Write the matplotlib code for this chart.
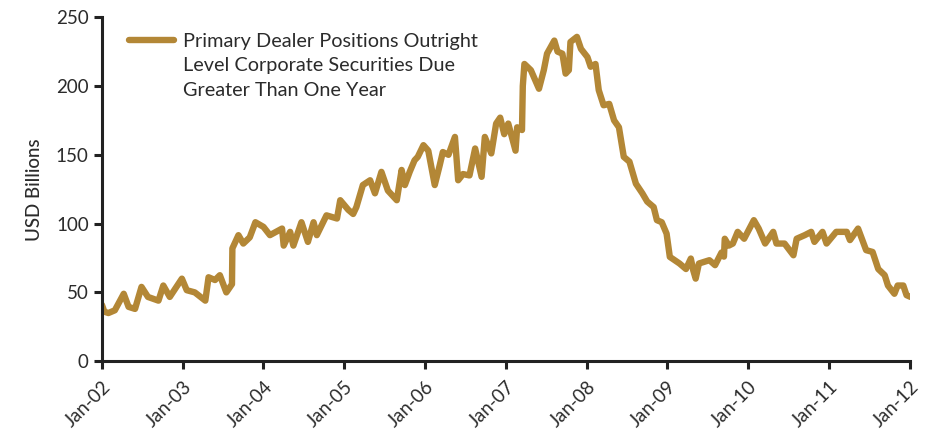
import numpy as np
import matplotlib
matplotlib.use('Agg')
import matplotlib.pyplot as plt
from matplotlib.lines import Line2D

plt.rcParams['font.family'] = ['Lato', 'DejaVu Sans']

# decimal years and level (USD billions)
years = [2002.00, 2002.03, 2002.08, 2002.16, 2002.27, 2002.33, 2002.41, 2002.49, 2002.57,
         2002.70, 2002.76, 2002.84, 2002.99, 2003.05, 2003.15, 2003.28, 2003.32, 2003.40,
         2003.46, 2003.54, 2003.61, 2003.615, 2003.69, 2003.75, 2003.83, 2003.90, 2004.00,
         2004.08, 2004.23, 2004.25, 2004.33, 2004.37, 2004.47, 2004.55, 2004.62, 2004.66,
         2004.78, 2004.91, 2004.95, 2005.05, 2005.11, 2005.15, 2005.23, 2005.32, 2005.38,
         2005.46, 2005.54, 2005.65, 2005.71, 2005.75, 2005.81, 2005.87, 2005.91, 2005.98,
         2006.04, 2006.12, 2006.18, 2006.22, 2006.29, 2006.37, 2006.41, 2006.47, 2006.55,
         2006.62, 2006.70, 2006.74, 2006.82, 2006.88, 2006.93, 2006.98, 2007.03, 2007.12,
         2007.14, 2007.20, 2007.21, 2007.23, 2007.31, 2007.41, 2007.47, 2007.51, 2007.60,
         2007.64, 2007.70, 2007.74, 2007.78, 2007.80, 2007.88, 2007.93, 2008.01, 2008.05,
         2008.11, 2008.15, 2008.21, 2008.28, 2008.34, 2008.40, 2008.46, 2008.53, 2008.61,
         2008.69, 2008.75, 2008.83, 2008.87, 2008.93, 2008.99, 2009.03, 2009.09, 2009.15,
         2009.23, 2009.29, 2009.32, 2009.35, 2009.39, 2009.52, 2009.59, 2009.67, 2009.70,
         2009.71, 2009.76, 2009.81, 2009.87, 2009.95, 2010.07, 2010.13, 2010.21, 2010.31,
         2010.35, 2010.45, 2010.56, 2010.60, 2010.70, 2010.78, 2010.82, 2010.92, 2010.97,
         2011.09, 2011.22, 2011.26, 2011.36, 2011.46, 2011.54, 2011.61, 2011.69, 2011.73,
         2011.81, 2011.85, 2011.92, 2011.96, 2012.01]
level = [41, 36, 35, 37, 49, 39.5, 38, 54, 46.7,
         44, 55, 46.7, 60, 51.6, 50, 44, 61, 59,
         62.5, 50, 56, 82, 91.6, 85.5, 90, 101, 97.6,
         91.6, 96.4, 84, 94, 84, 101, 86.7, 101, 91.6,
         106, 103.7, 117, 110, 107, 112, 128, 131.5, 122,
         137.6, 124, 117, 139, 128, 137.6, 146, 148.5, 157,
         153, 128, 142, 152, 150, 163, 131.5, 136, 135,
         154.6, 134, 163, 151, 172.7, 177, 165, 172.7, 153,
         170, 168, 200, 216, 211.5, 198, 211.5, 223.5, 233,
         225, 223.5, 209, 211.5, 232, 235.7, 227, 221, 214,
         216, 197, 186, 187, 175, 170, 148.5, 145, 129,
         122, 116, 112, 102.5, 101, 92.7, 75.8, 73.4, 71,
         67, 74.6, 66, 60, 71, 73.4, 69.8, 79, 76,
         89, 84, 85.5, 94, 89, 102.5, 96.4, 85.5, 94,
         85.5, 85.5, 77, 89, 91.6, 94, 86.7, 94, 85.5,
         94, 94, 88, 96.4, 80.7, 79.4, 67, 62.5, 55,
         49, 55, 55, 48, 46.7]

tick_years = list(range(2002, 2013))
tick_labels = ['Jan-%02d' % (y % 100) for y in tick_years]
label_lines = ['Primary Dealer Positions Outright',
               'Level Corporate Securities Due',
               'Greater Than One Year']

gold = '#b38736'
text_col = '#2b2b2b'

fig = plt.figure(figsize=(9.35, 4.3), dpi=100)
ax = fig.add_axes([0.109, 0.16, 0.864, 0.80])

line, = ax.plot(years, level, color=gold, lw=4.6, solid_joinstyle='round',
                solid_capstyle='round')

ax.set_xlim(2002, 2012)
ax.set_ylim(0, 250)
ax.set_xticks(tick_years)
ax.set_xticklabels(tick_labels, rotation=45, ha='right', rotation_mode='anchor')
ax.set_yticks([0, 50, 100, 150, 200, 250])
ax.set_ylabel('USD Billions', fontsize=13.5, color=text_col, labelpad=9,
              fontweight='medium')

for side in ['top', 'right']:
    ax.spines[side].set_visible(False)
for side in ['left', 'bottom']:
    ax.spines[side].set_linewidth(2.2)
    ax.spines[side].set_color('#222222')
ax.tick_params(direction='out', length=6, width=2.2, color='#222222',
               labelsize=13.5, labelcolor=text_col)
ax.tick_params(axis='x', pad=6)

# legend: line next to the first text row only
blank = Line2D([], [], color='none')
leg = ax.legend([line, blank, blank], label_lines, loc='upper left',
                bbox_to_anchor=(0.033, 0.955), frameon=False,
                borderaxespad=0, borderpad=0,
                handlelength=2.3, handletextpad=0.45, fontsize=14.3,
                labelspacing=0.38)
for t in leg.get_texts():
    t.set_color(text_col)

fig.savefig('out.png', dpi=100)
plt.close(fig)
